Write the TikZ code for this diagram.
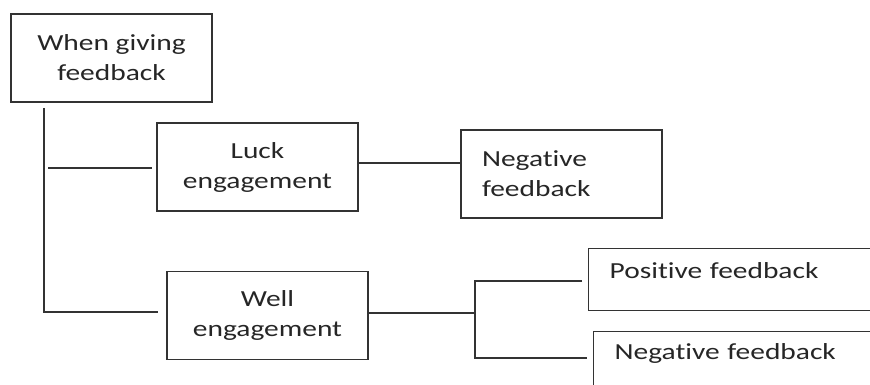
\documentclass[tikz,border=0pt]{standalone}
\usepackage{fontspec}
\setmainfont{Carlito}[FakeStretch=1.28, Ligatures={NoCommon, NoContextual, NoRare}]
\usepackage{tikz}
\usetikzlibrary{positioning}

\begin{document}
\begin{tikzpicture}[
  x=1pt, y=-1pt,
  every node/.style={font=\fontsize{23}{30}\selectfont, text=black!85},
  block/.style={rectangle, draw=black!80, line width=1.3pt, inner sep=0pt,
    minimum width=201pt, minimum height=88pt, align=center},
  leaf/.style={block, align=left, text width=159pt},
  openbox/.style={rectangle, draw=black!80, line width=1.3pt, anchor=north west,
    inner xsep=21pt, inner ysep=0pt, text width=258pt, align=left},
  link/.style={draw=black!80, line width=1.3pt},
]
\path[use as bounding box, clip] (0,0) rectangle (870,385);

% ========= Boxes =========
\node[block] at (111.5, 58) (root) {When giving\\feedback};
\node[block] at (257.5, 167) (luck) {Luck\\engagement};
\node[leaf] at (561.5, 174) (negA) {Negative\\feedback};
\node[block] at (267.5, 315.5) (well) {Well\\engagement};
\node[openbox, text height=30pt, text depth=32pt] at (588, 247.5) (pos) {Positive feedback};
\node[openbox, text height=28pt, text depth=40pt] at (593, 330.5) (negB) {Negative feedback};

% ========= Tree lines =========
\coordinate (trunk) at (44, 108);
\coordinate (trunkend) at (44, 312);
\coordinate (lucktap) at (48, 168);
\coordinate (fork) at (475, 313);
\coordinate (forktop) at (475, 281);
\coordinate (forkbot) at (475, 358);

\draw[link, shorten >=8pt] (trunk) -- (trunkend) -- (trunkend -| well.west);
\draw[link, shorten >=4pt] (lucktap) -- (lucktap -| luck.west);
\draw[link] ([yshift=4pt]luck.east) -- ([yshift=4pt]luck.east -| negA.west);

% ========= Well engagement fork =========
\draw[link] (fork -| well.east) -- (fork);
\draw[link, shorten <=6pt, shorten >=6pt] (forktop -| pos.west) -- (forktop)
  -- (forkbot) -- (forkbot -| negB.west);

\end{tikzpicture}
\end{document}
